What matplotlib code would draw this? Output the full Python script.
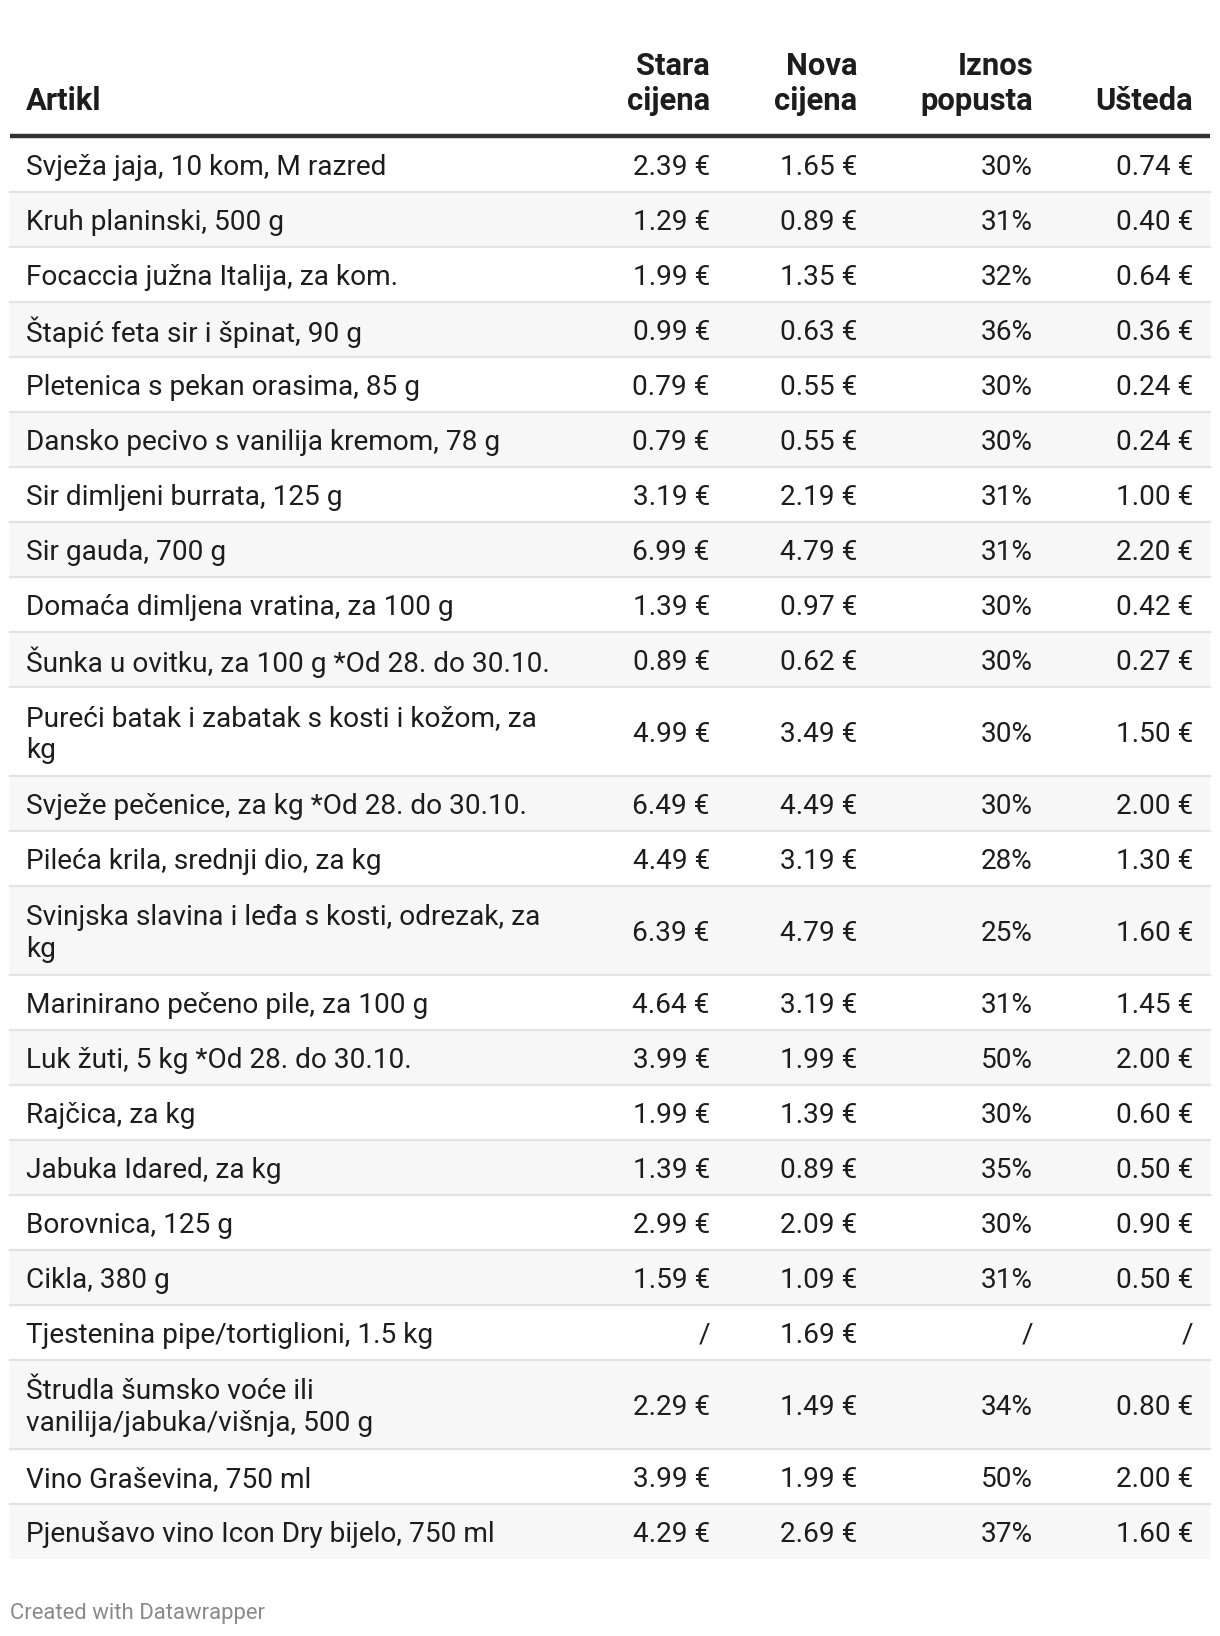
import textwrap
import matplotlib
matplotlib.use("Agg")
import matplotlib.pyplot as plt
from matplotlib.patches import Rectangle

# Data
items = [
    "Svježa jaja, 10 kom, M razred",
    "Kruh planinski, 500 g",
    "Focaccia južna Italija, za kom.",
    "Štapić feta sir i špinat, 90 g",
    "Pletenica s pekan orasima, 85 g",
    "Dansko pecivo s vanilija kremom, 78 g",
    "Sir dimljeni burrata, 125 g",
    "Sir gauda, 700 g",
    "Domaća dimljena vratina, za 100 g",
    "Šunka u ovitku, za 100 g *Od 28. do 30.10.",
    "Pureći batak i zabatak s kosti i kožom, za kg",
    "Svježe pečenice, za kg *Od 28. do 30.10.",
    "Pileća krila, srednji dio, za kg",
    "Svinjska slavina i leđa s kosti, odrezak, za kg",
    "Marinirano pečeno pile, za 100 g",
    "Luk žuti, 5 kg *Od 28. do 30.10.",
    "Rajčica, za kg",
    "Jabuka Idared, za kg",
    "Borovnica, 125 g",
    "Cikla, 380 g",
    "Tjestenina pipe/tortiglioni, 1.5 kg",
    "Štrudla šumsko voće ili vanilija/jabuka/višnja, 500 g",
    "Vino Graševina, 750 ml",
    "Pjenušavo vino Icon Dry bijelo, 750 ml",
]
old_price = ["2.39 €", "1.29 €", "1.99 €", "0.99 €", "0.79 €", "0.79 €", "3.19 €", "6.99 €",
             "1.39 €", "0.89 €", "4.99 €", "6.49 €", "4.49 €", "6.39 €", "4.64 €", "3.99 €",
             "1.99 €", "1.39 €", "2.99 €", "1.59 €", "/", "2.29 €", "3.99 €", "4.29 €"]
new_price = ["1.65 €", "0.89 €", "1.35 €", "0.63 €", "0.55 €", "0.55 €", "2.19 €", "4.79 €",
             "0.97 €", "0.62 €", "3.49 €", "4.49 €", "3.19 €", "4.79 €", "3.19 €", "1.99 €",
             "1.39 €", "0.89 €", "2.09 €", "1.09 €", "1.69 €", "1.49 €", "1.99 €", "2.69 €"]
discount = ["30%", "31%", "32%", "36%", "30%", "30%", "31%", "31%", "30%", "30%", "30%", "30%",
            "28%", "25%", "31%", "50%", "30%", "35%", "30%", "31%", "/", "34%", "50%", "37%"]
saving = ["0.74 €", "0.40 €", "0.64 €", "0.36 €", "0.24 €", "0.24 €", "1.00 €", "2.20 €",
          "0.42 €", "0.27 €", "1.50 €", "2.00 €", "1.30 €", "1.60 €", "1.45 €", "2.00 €",
          "0.60 €", "0.50 €", "0.90 €", "0.50 €", "/", "0.80 €", "2.00 €", "1.60 €"]
headers = ["Artikl", "Stara\ncijena", "Nova\ncijena", "Iznos\npopusta", "Ušteda"]

# Layout (pixels)
W, H = 1220, 1636
left, right = 10, 1210
text_x = 26
col_right = [710, 857, 1033, 1193]
table_top = 137
row_h1, row_h2 = 55, 89
fs_body = 20.2
fs_head = 22.3
txt_color = "#1d1d1d"

fig = plt.figure(figsize=(W / 100, H / 100), dpi=100)
ax = fig.add_axes([0, 0, 1, 1])
ax.set_xlim(0, W)
ax.set_ylim(H, 0)
ax.axis("off")

# header
ax.text(text_x, 110, headers[0], ha="left", va="baseline", fontsize=fs_head,
        fontweight="bold", family="Roboto", color=txt_color)
for xr, h in zip(col_right, headers[1:]):
    ax.text(xr, 110, h, ha="right", va="baseline", fontsize=fs_head, fontweight="bold",
            family="Roboto", color=txt_color, linespacing=1.2, multialignment="right")
ax.plot([left, right], [135.5, 135.5], color="#333333", lw=3.2, solid_capstyle="butt")

y = table_top
for i, name in enumerate(items):
    wrapped = textwrap.fill(name, 44)
    h = row_h2 if "\n" in wrapped else row_h1
    if i % 2 == 1:
        ax.add_patch(Rectangle((left, y), right - left, h, color="#f7f7f7", lw=0))
    if i < len(items) - 1:
        ax.plot([left, right], [y + h, y + h], color="#e3e3e3", lw=1.6)
    yc = y + h / 2 + 3
    ax.text(text_x, yc, wrapped, ha="left", va="center", fontsize=fs_body,
            family="Roboto", color=txt_color, linespacing=1.28)
    for xr, val in zip(col_right, [old_price[i], new_price[i], discount[i], saving[i]]):
        ax.text(xr, yc, val, ha="right", va="center", fontsize=fs_body,
                family="Roboto", color=txt_color)
    y += h

ax.text(left, 1613, "Created with Datawrapper", ha="left", va="center", fontsize=15.9,
        family="Roboto", color="#8a8a8a")

fig.savefig("out.png", dpi=100, facecolor="white")
